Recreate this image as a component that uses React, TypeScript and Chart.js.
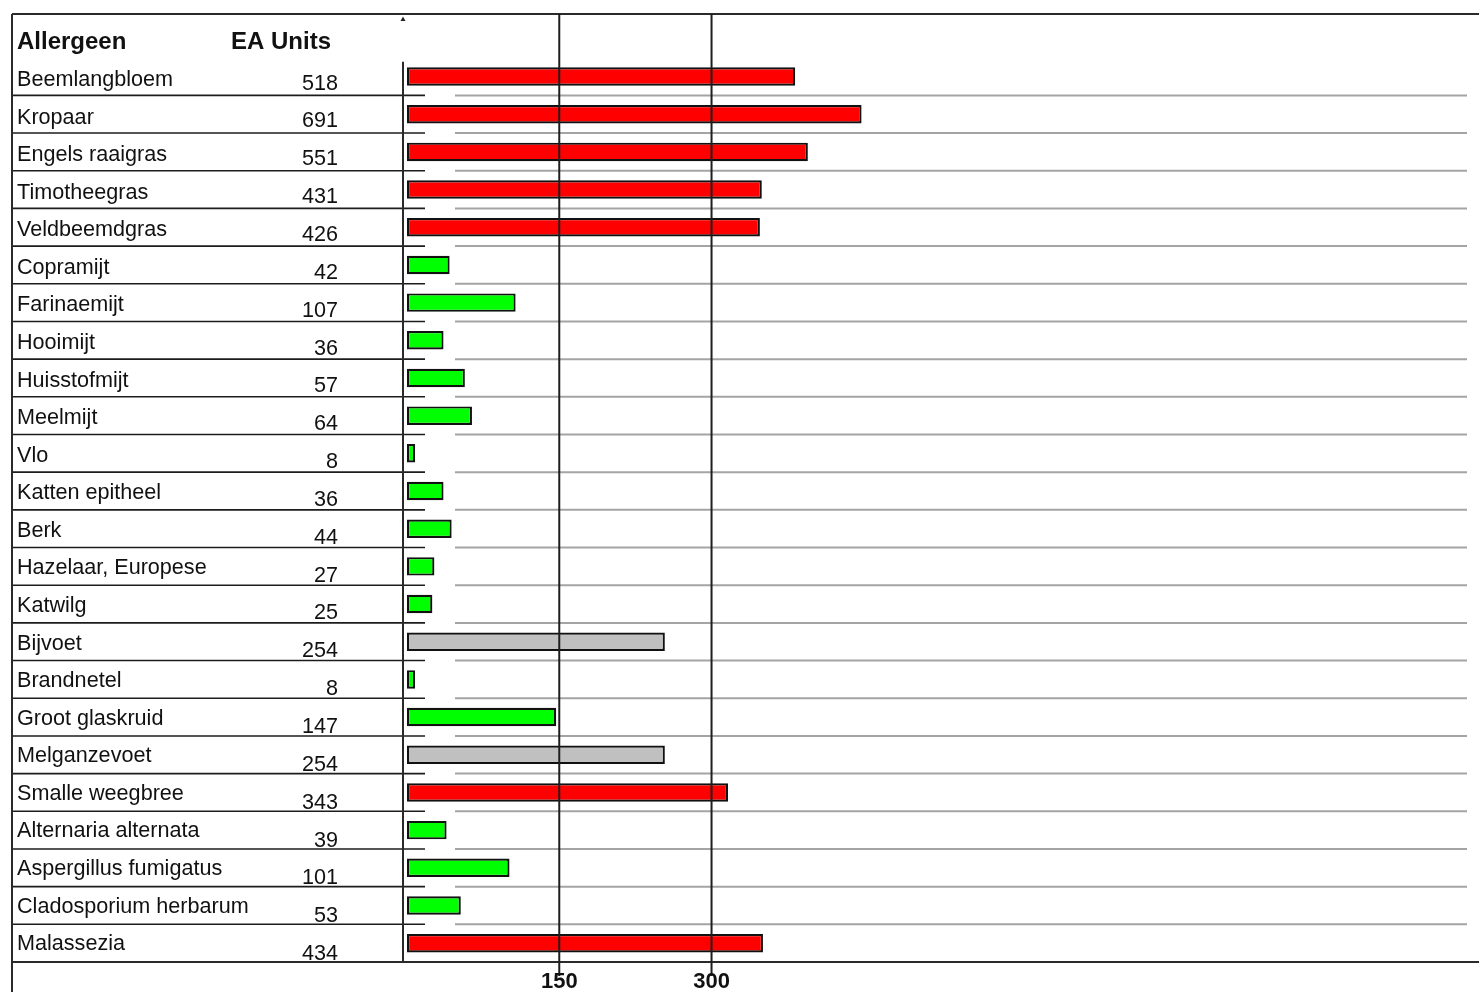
import React, { useEffect, useRef } from 'react';
import { Chart, registerables, LinearScale } from 'chart.js';

// ---------- data ----------
const allergens = [
  'Beemlangbloem', 'Kropaar', 'Engels raaigras', 'Timotheegras', 'Veldbeemdgras',
  'Copramijt', 'Farinaemijt', 'Hooimijt', 'Huisstofmijt', 'Meelmijt', 'Vlo',
  'Katten epitheel', 'Berk', 'Hazelaar, Europese', 'Katwilg', 'Bijvoet', 'Brandnetel',
  'Groot glaskruid', 'Melganzevoet', 'Smalle weegbree', 'Alternaria alternata',
  'Aspergillus fumigatus', 'Cladosporium herbarum', 'Malassezia',
];
const eaUnits = [518, 691, 551, 431, 426, 42, 107, 36, 57, 64, 8, 36, 44, 27, 25, 254, 8, 147, 254, 343, 39, 101, 53, 434];
const xTickValues = [150, 300];
const columnHeaders = ['Allergeen', 'EA Units'];
const classLimits = [150, 300];
const classColors = ['#00FF00', '#C0C0C0', '#FF0000'];

// ---------- broken (piecewise linear) value scale ----------
const BREAK = 300;
const COMPRESS = 0.378;
const warp = (v: number) => (v <= BREAK ? v : BREAK + (v - BREAK) * COMPRESS);
const unwarp = (t: number) => (t <= BREAK ? t : BREAK + (t - BREAK) / COMPRESS);

class BrokenLinearScale extends LinearScale {
  static id = 'brokenLinear';
  static defaults = (LinearScale as any).defaults;
  getPixelForValue(value: number) {
    if (value === null || value === undefined) return NaN;
    const lo = warp(this.min as number);
    const hi = warp(this.max as number);
    return this.getPixelForDecimal((warp(value) - lo) / (hi - lo));
  }
  getValueForPixel(pixel: number) {
    const lo = warp(this.min as number);
    const hi = warp(this.max as number);
    return unwarp(lo + this.getDecimalForPixel(pixel) * (hi - lo));
  }
}

Chart.register(...registerables, BrokenLinearScale as any);

const colorFor = (v: number) =>
  v >= classLimits[1] ? classColors[2] : v >= classLimits[0] ? classColors[1] : classColors[0];

const FONT = '"Liberation Sans", Arial, Helvetica, sans-serif';

function seg(ctx: CanvasRenderingContext2D, x1: number, y1: number, x2: number, y2: number) {
  ctx.beginPath();
  ctx.moveTo(x1, y1);
  ctx.lineTo(x2, y2);
  ctx.stroke();
}

const tablePlugin = {
  id: 'allergyTable',
  beforeDatasetsDraw(chart: any) {
    const ctx: CanvasRenderingContext2D = chart.ctx;
    const ys = chart.scales.y;
    const area = chart.chartArea;
    const W = chart.width;
    const H = chart.height;
    ctx.save();
    ctx.lineCap = 'butt';

    // row separators
    for (let k = 1; k < allergens.length; k++) {
      const y = ys.getPixelForValue(k - 0.5);
      ctx.strokeStyle = '#1c1c1c';
      ctx.lineWidth = 1.6;
      seg(ctx, 12, y, 425, y);
      ctx.strokeStyle = '#a4a4a4';
      ctx.lineWidth = 2;
      seg(ctx, 455, y, 1467, y);
    }

    // frame lines
    ctx.strokeStyle = '#2a2a2a';
    ctx.lineWidth = 2;
    seg(ctx, 12, 14, W, 14);
    seg(ctx, 12, 14, 12, H);
    seg(ctx, 12, area.bottom, W, area.bottom);
    // category axis line
    seg(ctx, 403, area.top + 4, 403, area.bottom);
    // small marker
    ctx.fillStyle = '#222';
    ctx.beginPath();
    ctx.moveTo(400.5, 21);
    ctx.lineTo(405.5, 21);
    ctx.lineTo(403, 16.5);
    ctx.closePath();
    ctx.fill();

    // headers
    ctx.fillStyle = '#111';
    ctx.textBaseline = 'alphabetic';
    ctx.font = `bold 24px ${FONT}`;
    ctx.textAlign = 'left';
    ctx.fillText(columnHeaders[0], 17, 49);
    ctx.fillText(columnHeaders[1], 231, 49);

    // rows
    const n = allergens.length;
    for (let i = 0; i < n; i++) {
      const c = ys.getPixelForValue(i);
      ctx.font = `21.6px ${FONT}`;
      ctx.textAlign = 'left';
      ctx.fillText(allergens[i], 17, c + 9.5 - (i * 2.5) / (n - 1));
      ctx.textAlign = 'right';
      ctx.fillText(String(eaUnits[i]), 338, c + 13 + (i * 4) / (n - 1));
    }
    ctx.restore();
  },
  afterDatasetsDraw(chart: any) {
    const ctx: CanvasRenderingContext2D = chart.ctx;
    const xs = chart.scales.x;
    const area = chart.chartArea;
    ctx.save();
    ctx.strokeStyle = '#1e1e1e';
    ctx.lineWidth = 2;
    ctx.fillStyle = '#111';
    ctx.font = `bold 22px ${FONT}`;
    ctx.textAlign = 'center';
    ctx.textBaseline = 'alphabetic';
    for (const v of xTickValues) {
      const x = xs.getPixelForValue(v);
      seg(ctx, x, 14, x, area.bottom + 14);
      ctx.fillText(String(v), x, 988);
    }
    ctx.restore();
  },
};

export default function App() {
  const ref = useRef<HTMLCanvasElement | null>(null);

  useEffect(() => {
    document.body.style.margin = '0';
    const canvas = ref.current;
    if (!canvas) return;
    const chart = new Chart(canvas, {
      type: 'bar',
      data: {
        labels: allergens,
        datasets: [
          {
            data: eaUnits,
            backgroundColor: eaUnits.map(colorFor),
            borderColor: '#111111',
            borderWidth: 2.2,
            borderSkipped: false,
            barPercentage: 0.49,
            categoryPercentage: 1,
          },
        ],
      },
      options: {
        indexAxis: 'y',
        animation: false,
        responsive: false,
        devicePixelRatio: 1,
        layout: { padding: { left: 407, top: 57.7, right: 0, bottom: 30 } },
        plugins: { legend: { display: false }, tooltip: { enabled: false } },
        scales: {
          x: { type: 'brokenLinear' as any, display: false, min: 0, max: 2300 },
          y: { type: 'category', display: false, offset: true },
        },
      },
      plugins: [tablePlugin as any],
    });
    return () => chart.destroy();
  }, []);

  return (
    <div style={{ position: 'fixed', left: 0, top: 0, width: 1479, height: 992, background: '#fff' }}>
      <canvas ref={ref} width={1479} height={992} style={{ display: 'block', width: 1479, height: 992 }} />
    </div>
  );
}
